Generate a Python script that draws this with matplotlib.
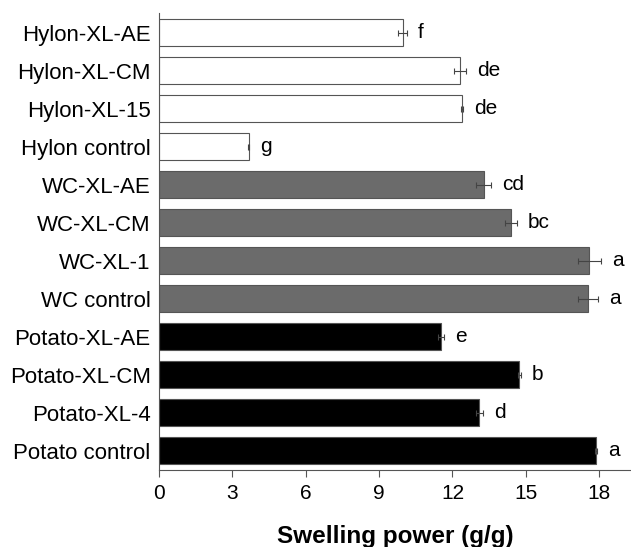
import matplotlib.pyplot as plt

# Samples, top to bottom
labels = ["Hylon-XL-AE", "Hylon-XL-CM", "Hylon-XL-15", "Hylon control",
          "WC-XL-AE", "WC-XL-CM", "WC-XL-1", "WC control",
          "Potato-XL-AE", "Potato-XL-CM", "Potato-XL-4", "Potato control"]
swelling = [9.97, 12.32, 12.40, 3.66,
            13.27, 14.40, 17.60, 17.53,
            11.52, 14.73, 13.10, 17.88]
errors = [0.18, 0.25, 0.05, 0.03,
          0.32, 0.24, 0.48, 0.41,
          0.12, 0.06, 0.15, 0.05]
letters = ["f", "de", "de", "g", "cd", "bc", "a", "a", "e", "b", "d", "a"]
colors = ["white"] * 4 + ["#6b6b6b"] * 4 + ["black"] * 4

plt.rcParams['font.family'] = ['Liberation Sans', 'DejaVu Sans']

fig = plt.figure(figsize=(6.31, 5.47), dpi=100)
ax = fig.add_axes([0.252, 0.1408, 0.748, 0.835])

# bottom bar at y=0
ypos = list(range(len(labels)))[::-1]
ax.barh(ypos, swelling, height=0.71, color=colors, edgecolor="#555555",
        linewidth=0.8, xerr=errors,
        error_kw=dict(ecolor="#444444", elinewidth=0.8, capsize=2, capthick=0.8))

for y, v, e, t in zip(ypos, swelling, errors, letters):
    ax.text(v + e + 0.45, y, t, va="center", ha="left", fontsize=15)

ax.set_yticks(ypos)
ax.set_yticklabels(labels, fontsize=16)
ax.tick_params(axis="y", length=0, pad=6)
ax.set_xticks([0, 3, 6, 9, 12, 15, 18])
ax.tick_params(axis="x", labelsize=15, length=5, width=0.8, direction="out",
               color="#555555", pad=5)
ax.set_xlim(0, 19.3)
ax.set_ylim(-0.51, 11.51)

for s in ["top", "right"]:
    ax.spines[s].set_visible(False)
ax.spines["left"].set_color("#555555")
ax.spines["bottom"].set_color("#555555")

ax.set_xlabel("Swelling power (g/g)", fontsize=17.5, fontweight="bold", labelpad=16)

fig.savefig("out.png", dpi=100)
